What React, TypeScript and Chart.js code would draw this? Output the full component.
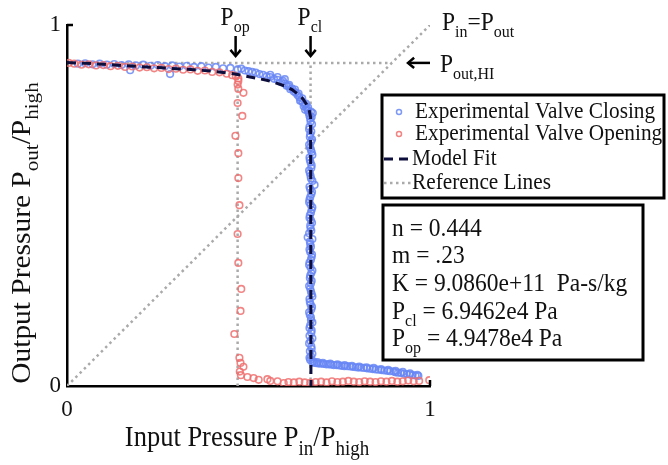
import React, { useEffect, useRef } from "react";
import { Chart, registerables } from "chart.js";

Chart.register(...registerables);

// ---- data (normalized pressures) ----
const P_OUT_HI = 0.895;
const P_OP = 0.47;
const P_CL = 0.671;

const closingUpper: number[][] = [
  [0.03,0.893],[0.05,0.894],[0.07,0.891],[0.09,0.893],[0.11,0.890],[0.13,0.892],[0.15,0.889],[0.174,0.875],[0.17,0.891],[0.19,0.888],[0.21,0.890],[0.23,0.887],[0.25,0.889],[0.27,0.886],[0.284,0.864],[0.29,0.888],[0.31,0.885],[0.33,0.887],[0.35,0.884],[0.37,0.886],[0.39,0.882],[0.41,0.884],[0.43,0.880],[0.45,0.881],[0.47,0.877],[0.48,0.879],[0.49,0.874],[0.50,0.872],[0.51,0.870],[0.52,0.868],[0.53,0.864],[0.54,0.862],[0.55,0.858],[0.56,0.856],[0.57,0.851],[0.58,0.848],[0.59,0.842],[0.60,0.838],[0.605,0.832],[0.61,0.830],[0.615,0.822],[0.62,0.824],[0.625,0.816],[0.63,0.812],[0.635,0.806],[0.64,0.800],[0.645,0.791],[0.65,0.786],[0.652,0.775],[0.655,0.779],[0.66,0.770],[0.663,0.763],[0.666,0.756],[0.668,0.748],[0.677,0.756],[0.67,0.740]
];
const closingKnee: number[][] = [
  [0.56,0.862],[0.58,0.856],[0.595,0.845],[0.6,0.85],[0.612,0.834],[0.628,0.821],[0.638,0.810],[0.642,0.790],[0.648,0.797],[0.656,0.765],[0.658,0.782],[0.664,0.772],[0.672,0.760],[0.674,0.745]
];
const closingDrop: number[][] = [
  [0.671,0.732],[0.668,0.718],[0.673,0.705],[0.669,0.690],[0.672,0.676],[0.670,0.661],[0.674,0.648],[0.668,0.633],[0.671,0.619],[0.673,0.604],[0.669,0.590],[0.672,0.575],[0.682,0.557],[0.670,0.545],[0.673,0.531],[0.668,0.516],[0.671,0.502],[0.674,0.488],[0.669,0.473],[0.672,0.459],[0.670,0.444],[0.673,0.430],[0.663,0.412],[0.669,0.400],[0.672,0.386],[0.670,0.371],[0.674,0.357],[0.668,0.342],[0.671,0.328],[0.673,0.313],[0.669,0.299],[0.672,0.284],[0.670,0.270],[0.674,0.255],[0.668,0.241],[0.671,0.226],[0.673,0.212],[0.669,0.197],[0.672,0.183],[0.670,0.168],[0.674,0.154],[0.668,0.139],[0.671,0.125],[0.673,0.110],[0.669,0.096],[0.672,0.082],[0.670,0.072]
];
const closingDrop2: number[][] = [
  [0.675,0.725],[0.667,0.711],[0.670,0.697],[0.675,0.683],[0.667,0.668],[0.672,0.654],[0.676,0.640],[0.669,0.626],[0.674,0.611],[0.667,0.597],[0.671,0.582],[0.676,0.568],[0.668,0.552],[0.675,0.538],[0.670,0.523],[0.667,0.509],[0.676,0.495],[0.672,0.480],[0.668,0.466],[0.675,0.452],[0.671,0.437],[0.667,0.423],[0.676,0.407],[0.670,0.393],[0.668,0.378],[0.675,0.364],[0.672,0.350],[0.667,0.335],[0.676,0.320],[0.670,0.306],[0.674,0.291],[0.667,0.277],[0.672,0.262],[0.676,0.248],[0.669,0.233],[0.675,0.219],[0.667,0.204],[0.672,0.190],[0.676,0.176],[0.668,0.161],[0.673,0.147],[0.676,0.132],[0.667,0.118],[0.674,0.103],[0.676,0.089],[0.668,0.078]
];
const closingLower: number[][] = [
  [0.676,0.066],[0.682,0.064],[0.688,0.063],[0.694,0.062],[0.70,0.062],[0.707,0.061],[0.714,0.060],[0.72,0.060],[0.728,0.059],[0.735,0.058],[0.742,0.058],[0.75,0.057],[0.757,0.056],[0.764,0.055],[0.772,0.055],[0.78,0.054],[0.787,0.053],[0.795,0.052],[0.802,0.051],[0.81,0.051],[0.818,0.050],[0.826,0.049],[0.834,0.048],[0.842,0.047],[0.85,0.046],[0.858,0.045],[0.866,0.044],[0.874,0.043],[0.882,0.042],[0.89,0.041],[0.90,0.040],[0.905,0.038],[0.912,0.037],[0.92,0.036],[0.928,0.034],[0.936,0.033],[0.944,0.032],[0.952,0.030],[0.96,0.029],[0.968,0.028]
];
const closingLower2: number[][] = [
  [0.679,0.068],[0.69,0.066],[0.705,0.064],[0.725,0.062],[0.745,0.060],[0.765,0.058],[0.785,0.056],[0.805,0.054],[0.825,0.052],[0.845,0.050],[0.865,0.047],[0.885,0.045],[0.905,0.042],[0.925,0.039],[0.945,0.035],[0.965,0.031]
];

const openingUpper: number[][] = [
  [0.005,0.895],[0.02,0.893],[0.04,0.890],[0.06,0.891],[0.08,0.888],[0.10,0.889],[0.12,0.886],[0.14,0.887],[0.16,0.884],[0.18,0.885],[0.20,0.882],[0.22,0.883],[0.24,0.880],[0.26,0.881],[0.28,0.878],[0.30,0.879],[0.32,0.876],[0.34,0.877],[0.36,0.873],[0.38,0.874],[0.40,0.870],[0.42,0.869],[0.44,0.865],[0.455,0.861],[0.465,0.858],[0.472,0.852]
];
const openingDrop: number[][] = [
  [0.472,0.845],[0.47,0.835],[0.472,0.823],[0.486,0.812],[0.47,0.784],[0.483,0.748],[0.464,0.693],[0.472,0.645],[0.472,0.576],[0.475,0.501],[0.47,0.421],[0.472,0.341],[0.48,0.269],[0.478,0.208],[0.461,0.144],[0.475,0.078]
];
const openingLower: number[][] = [
  [0.478,0.064],[0.486,0.053],[0.476,0.040],[0.479,0.030],[0.497,0.025],[0.514,0.022],[0.528,0.017],[0.552,0.019],[0.56,0.014],[0.58,0.013],[0.597,0.008],[0.61,0.011],[0.625,0.010],[0.64,0.012],[0.655,0.010],[0.67,0.009],[0.685,0.011],[0.70,0.012],[0.715,0.010],[0.73,0.013],[0.745,0.011],[0.76,0.012],[0.775,0.014],[0.79,0.012],[0.805,0.011],[0.82,0.013],[0.835,0.012],[0.85,0.011],[0.865,0.013],[0.88,0.012],[0.895,0.014],[0.91,0.012],[0.925,0.013],[0.94,0.015],[0.955,0.013],[0.97,0.014],[0.998,0.016]
];

const modelFit: number[][] = [
  [0,0.896],[0.05,0.894],[0.1,0.891],[0.15,0.888],[0.2,0.885],[0.25,0.882],[0.3,0.879],[0.35,0.876],[0.4,0.872],[0.45,0.866],[0.48,0.861],[0.52,0.853],[0.55,0.847],[0.57,0.841],[0.6,0.831],[0.62,0.821],[0.64,0.805],[0.65,0.795],[0.66,0.78],[0.667,0.765],[0.671,0.745],[0.6715,0.5],[0.672,0.0]
];

const xTicks = [0, 1];
const yTicks = [0, 1];

const legendLabels = ["Experimental Valve Closing", "Experimental Valve Opening", "Model Fit", "Reference Lines"];
const paramLines: [string, boolean][][] = [
  [["n = 0.444", false]],
  [["m = .23", false]],
  [["K = 9.0860e+11  Pa-s/kg", false]],
  [["P", false], ["cl", true], [" = 6.9462e4 Pa", false]],
  [["P", false], ["op", true], [" = 4.9478e4 Pa", false]],
];

const toPts = (a: number[][]) => a.map(([x, y]) => ({ x, y }));

const BLUE = "rgba(105,135,245,0.85)";
const RED = "rgba(240,110,110,0.85)";
const GREY = "#aaaaaa";
const NAVY = "#0e0e3c";
const SERIF = "'Liberation Serif', 'DejaVu Serif', serif";
const SY = 1.1;

function drawRich(ctx: CanvasRenderingContext2D, x: number, y: number, parts: [string, boolean][], size: number, sub: number, dy: number, sy = SY) {
  ctx.save();
  ctx.translate(x, y);
  ctx.scale(1, sy);
  let cx = 0;
  for (const [t, s] of parts) {
    ctx.font = `${s ? sub : size}px ${SERIF}`;
    ctx.fillText(t, cx, s ? dy / sy : 0);
    cx += ctx.measureText(t).width;
  }
  ctx.restore();
  return cx;
}
function richWidth(ctx: CanvasRenderingContext2D, parts: [string, boolean][], size: number, sub: number) {
  let w = 0;
  for (const [t, s] of parts) {
    ctx.font = `${s ? sub : size}px ${SERIF}`;
    w += ctx.measureText(t).width;
  }
  return w;
}
function arrow(ctx: CanvasRenderingContext2D, x1: number, y1: number, x2: number, y2: number) {
  ctx.save();
  ctx.strokeStyle = "#000";
  ctx.lineWidth = 2.5;
  ctx.beginPath();
  ctx.moveTo(x1, y1);
  ctx.lineTo(x2, y2);
  ctx.stroke();
  const ang = Math.atan2(y2 - y1, x2 - x1);
  const L = 8;
  ctx.beginPath();
  ctx.moveTo(x2 - L * Math.cos(ang - 0.7), y2 - L * Math.sin(ang - 0.7));
  ctx.lineTo(x2, y2);
  ctx.lineTo(x2 - L * Math.cos(ang + 0.7), y2 - L * Math.sin(ang + 0.7));
  ctx.stroke();
  ctx.restore();
}

const overlay = {
  id: "overlay",
  afterDraw(chart: any) {
    const ctx: CanvasRenderingContext2D = chart.ctx;
    const xs = chart.scales.x;
    const ys = chart.scales.y;
    const ca = chart.chartArea;
    ctx.save();
    ctx.fillStyle = "#111";
    ctx.textBaseline = "alphabetic";
    ctx.textAlign = "left";

    // inward end ticks
    ctx.strokeStyle = "#000";
    ctx.lineWidth = 2.5;
    ctx.beginPath();
    ctx.moveTo(ca.left, ca.top);
    ctx.lineTo(ca.left + 6, ca.top);
    ctx.moveTo(ca.right, ca.bottom);
    ctx.lineTo(ca.right, ca.bottom - 6);
    ctx.stroke();

    // axis titles
    const xt: [string, boolean][] = [["Input Pressure P", false], ["in", true], ["/P", false], ["high", true]];
    const xw = richWidth(ctx, xt, 26.5, 19);
    drawRich(ctx, 247 - xw / 2, 446, xt, 26.5, 19, 9);
    const yt: [string, boolean][] = [["Output Pressure P", false], ["out", true], ["/P", false], ["high", true]];
    const yw = richWidth(ctx, yt, 26.5, 19);
    ctx.save();
    ctx.translate(30, 233);
    ctx.rotate(-Math.PI / 2);
    ctx.scale(1.11, 1);
    drawRich(ctx, -yw / 2, 0, yt, 26.5, 19, 8, 1);
    ctx.restore();

    // annotations
    const xop = xs.getPixelForValue(P_OP);
    const xcl = xs.getPixelForValue(P_CL);
    const yhi = ys.getPixelForValue(P_OUT_HI);
    drawRich(ctx, xop - 17, 25, [["P", false], ["op", true]], 23.5, 16, 7);
    arrow(ctx, xop - 2, 36, xop - 2, 56);
    drawRich(ctx, xcl - 13, 25, [["P", false], ["cl", true]], 23.5, 16, 7);
    arrow(ctx, xcl, 36, xcl, 56);
    drawRich(ctx, 442, 30, [["P", false], ["in", true], ["=P", false], ["out", true]], 23.5, 16, 7);
    arrow(ctx, 430, yhi, 408, yhi);
    drawRich(ctx, 440, 72, [["P", false], ["out,HI", true]], 23.5, 16, 7);

    // legend box
    ctx.fillStyle = "#fff";
    ctx.fillRect(382, 95, 282, 103);
    ctx.strokeStyle = "#000";
    ctx.lineWidth = 3;
    ctx.strokeRect(382, 95, 282, 103);
    ctx.fillStyle = "#111";
    const ly = [112, 134, 159, 183];
    ctx.lineWidth = 1.5;
    ctx.strokeStyle = BLUE;
    ctx.beginPath(); ctx.arc(399, ly[0], 2.5, 0, Math.PI * 2); ctx.stroke();
    ctx.strokeStyle = RED;
    ctx.beginPath(); ctx.arc(399, ly[1], 2.5, 0, Math.PI * 2); ctx.stroke();
    ctx.textBaseline = "middle";
    drawRich(ctx, 415, ly[0], [[legendLabels[0], false]], 21.3, 15, 0);
    drawRich(ctx, 415, ly[1], [[legendLabels[1], false]], 21.3, 15, 0);
    ctx.strokeStyle = NAVY;
    ctx.lineWidth = 3;
    ctx.setLineDash([9, 6]);
    ctx.beginPath(); ctx.moveTo(384, ly[2]); ctx.lineTo(411, ly[2]); ctx.stroke();
    ctx.strokeStyle = GREY;
    ctx.lineWidth = 2.5;
    ctx.setLineDash([2.5, 3.5]);
    ctx.beginPath(); ctx.moveTo(384, ly[3]); ctx.lineTo(411, ly[3]); ctx.stroke();
    ctx.setLineDash([]);
    drawRich(ctx, 412, ly[2], [[legendLabels[2], false]], 21.3, 15, 0);
    drawRich(ctx, 412, ly[3], [[legendLabels[3], false]], 21.3, 15, 0);

    // parameter box
    ctx.fillStyle = "#fff";
    ctx.fillRect(383, 205, 260, 155);
    ctx.strokeStyle = "#000";
    ctx.lineWidth = 3;
    ctx.strokeRect(383, 205, 260, 155);
    ctx.fillStyle = "#111";
    ctx.textBaseline = "alphabetic";
    const py = [236, 263, 291, 319, 346];
    paramLines.forEach((parts, i) => drawRich(ctx, 392, py[i], parts, 23.5, 16, 7));
    ctx.restore();
  },
};

export default function App() {
  const ref = useRef<HTMLCanvasElement>(null);
  useEffect(() => {
    if (!ref.current) return;
    const pt = { pointStyle: "circle", pointRadius: 3.3, pointBorderWidth: 1.6, pointBackgroundColor: "rgba(0,0,0,0)", showLine: false };
    const refLine = { borderColor: GREY, borderWidth: 2.5, borderDash: [2.5, 3.5], pointRadius: 0, showLine: true, order: 4 };
    const chart = new Chart(ref.current, {
      type: "scatter",
      data: {
        datasets: [
          { label: "Model Fit", data: toPts(modelFit), showLine: true, borderColor: NAVY, borderWidth: 3, borderDash: [9, 6], pointRadius: 0, order: 0 } as any,
          { label: "Experimental Valve Opening", data: toPts([...openingUpper, ...openingDrop, ...openingLower]), borderColor: RED, pointBorderColor: RED, ...pt, order: 1 } as any,
          { label: "Experimental Valve Closing", data: toPts([...closingUpper, ...closingKnee, ...closingDrop, ...closingDrop2, ...closingLower, ...closingLower2]), borderColor: BLUE, pointBorderColor: BLUE, ...pt, order: 2 } as any,
          { label: "diag", data: [{ x: 0, y: 0 }, { x: 1, y: 1 }], ...refLine } as any,
          { label: "hi", data: [{ x: 0, y: P_OUT_HI }, { x: P_OUT_HI, y: P_OUT_HI }], ...refLine } as any,
          { label: "op", data: [{ x: P_OP, y: 0 }, { x: P_OP, y: P_OUT_HI }], ...refLine } as any,
          { label: "cl", data: [{ x: P_CL, y: 0 }, { x: P_CL, y: P_OUT_HI }], ...refLine } as any,
        ],
      },
      options: {
        animation: false,
        responsive: false,
        layout: { padding: { left: 0, top: 25, right: 238, bottom: 0 } },
        plugins: { legend: { display: false }, tooltip: { enabled: false } },
        scales: {
          x: {
            type: "linear", min: 0, max: 1,
            afterFit: (s: any) => { s.height = 79; },
            afterBuildTicks: (s: any) => { s.ticks = xTicks.map((v) => ({ value: v })); },
            grid: { display: false, drawTicks: false },
            border: { display: true, color: "#000", width: 2.5 },
            ticks: { padding: 10, color: "#111", font: { family: SERIF, size: 23 } },
          },
          y: {
            type: "linear", min: 0, max: 1,
            afterFit: (s: any) => { s.width = 67; },
            afterBuildTicks: (s: any) => { s.ticks = yTicks.map((v) => ({ value: v })); },
            grid: { display: false, drawTicks: false },
            border: { display: true, color: "#000", width: 2.5 },
            ticks: { padding: 6, color: "#111", font: { family: SERIF, size: 23 } },
          },
        },
      } as any,
      plugins: [overlay],
    });
    return () => chart.destroy();
  }, []);
  return (
    <canvas ref={ref} width={668} height={465} style={{ position: "fixed", left: 0, top: 0, display: "block", background: "#fff" }} />
  );
}
